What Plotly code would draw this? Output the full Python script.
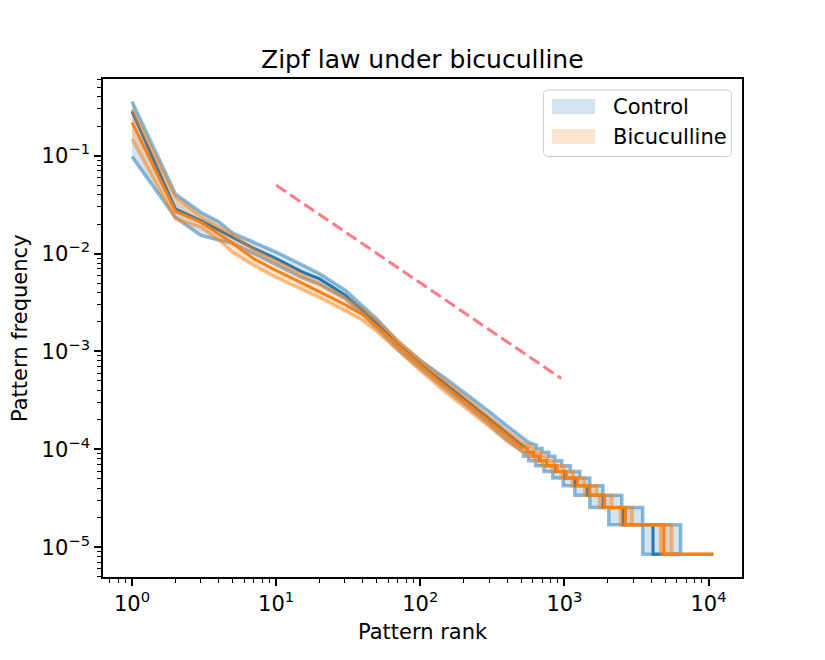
import plotly.graph_objects as go

# ---------------- data ----------------
ctrl_mean_rank = [1, 2, 3, 4, 5, 7, 10, 15, 20, 30, 40, 50, 70, 100, 150, 200, 300, 400, 500,
                  550, 550, 605, 605, 670, 670, 751, 751, 870, 870, 1006, 1006, 1181, 1181,
                  1441, 1441, 1854, 1854, 2551, 2551, 4118, 4118, 6450]
ctrl_mean_freq = [0.283, 0.0286, 0.0217, 0.01746, 0.01479, 0.0113, 0.00889, 0.00655, 0.00551,
                  0.00377, 0.00262, 0.00193, 0.001164, 7.36e-4, 4.66e-4, 3.35e-4, 2.06e-4,
                  1.46e-4, 1.11e-4,
                  1.02e-4, 9.35e-5, 9.35e-5, 8.5e-5, 8.5e-5, 7.65e-5, 7.65e-5, 6.8e-5, 6.8e-5,
                  5.95e-5, 5.95e-5, 5.1e-5, 5.1e-5, 4.25e-5, 4.25e-5, 3.4e-5, 3.4e-5, 2.55e-5,
                  2.55e-5, 1.7e-5, 1.7e-5, 8.5e-6, 8.5e-6]

ctrl_upper_rank = [1, 2, 3, 4, 5, 7, 10, 15, 20, 30, 40, 50, 70, 100, 150, 200, 300, 400, 500,
                   560, 640, 640, 700, 700, 780, 780, 860, 860, 960, 960, 1100, 1100, 1280, 1280,
                   1500, 1500, 1850, 1850, 2500, 2500, 3490, 3490, 6400, 6400, 6450]
ctrl_upper_freq = [0.358, 0.0406, 0.0264, 0.0212, 0.0162, 0.0130, 0.01035, 0.00773, 0.00622,
                   0.00425, 0.00292, 0.00215, 0.00125, 8.09e-4, 5.3e-4, 3.86e-4, 2.44e-4,
                   1.74e-4, 1.36e-4,
                   1.19e-4, 1.105e-4, 1.02e-4, 1.02e-4, 9.35e-5, 9.35e-5, 8.5e-5, 8.5e-5, 7.65e-5,
                   7.65e-5, 6.8e-5, 6.8e-5, 5.95e-5, 5.95e-5, 5.1e-5, 5.1e-5, 4.25e-5, 4.25e-5,
                   3.4e-5, 3.4e-5, 2.55e-5, 2.55e-5, 1.7e-5, 1.7e-5, 8.5e-6, 8.5e-6]

ctrl_lower_rank = [1, 2, 3, 4, 5, 7, 10, 15, 20, 30, 40, 50, 70, 100, 150, 200, 300, 400, 500,
                   520, 520, 565, 565, 630, 630, 720, 720, 830, 830, 980, 980, 1180, 1180,
                   1500, 1500, 2030, 2030, 3490, 3490, 6450]
ctrl_lower_freq = [0.0977, 0.0234, 0.0153, 0.0136, 0.01265, 0.0100, 0.00773, 0.00569, 0.00483,
                   0.00347, 0.00239, 0.00172, 0.00105, 6.71e-4, 4.19e-4, 2.94e-4, 1.80e-4,
                   1.24e-4, 9.77e-5,
                   9.35e-5, 8.5e-5, 8.5e-5, 7.65e-5, 7.65e-5, 6.8e-5, 6.8e-5, 5.95e-5, 5.95e-5,
                   5.1e-5, 5.1e-5, 4.25e-5, 4.25e-5, 3.4e-5, 3.4e-5, 2.55e-5, 2.55e-5, 1.7e-5,
                   1.7e-5, 8.5e-6, 8.5e-6]

bic_mean_rank = [1, 2, 3, 4, 5, 7, 10, 15, 20, 30, 40, 50, 70, 100, 150, 200, 300, 400, 500,
                 555, 555, 610, 610, 680, 680, 757, 757, 888, 888, 1030, 1030, 1230, 1230,
                 1500, 1500, 1900, 1900, 2650, 2650, 4900, 4900, 10800]
bic_mean_freq = [0.219, 0.0270, 0.0209, 0.0160, 0.01274, 0.00883, 0.00671, 0.00501, 0.00407,
                 0.00302, 0.00236, 0.00180, 0.00115, 7.19e-4, 4.34e-4, 3.09e-4, 1.91e-4,
                 1.36e-4, 1.06e-4,
                 1.02e-4, 9.35e-5, 9.35e-5, 8.5e-5, 8.5e-5, 7.65e-5, 7.65e-5, 6.8e-5, 6.8e-5,
                 5.95e-5, 5.95e-5, 5.1e-5, 5.1e-5, 4.25e-5, 4.25e-5, 3.4e-5, 3.4e-5, 2.55e-5,
                 2.55e-5, 1.7e-5, 1.7e-5, 8.5e-6, 8.5e-6]

bic_upper_rank = [1, 2, 3, 4, 5, 7, 10, 15, 20, 30, 40, 50, 70, 100, 150, 200, 300, 400, 500,
                  560, 620, 620, 690, 690, 760, 760, 850, 850, 990, 990, 1150, 1150, 1380, 1380,
                  1680, 1680, 2130, 2130, 2950, 2950, 5560, 5560, 10800]
bic_upper_freq = [0.30, 0.038, 0.0239, 0.0188, 0.0156, 0.0110, 0.00828, 0.00611, 0.00494,
                  0.00356, 0.00268, 0.00207, 0.00129, 8.09e-4, 4.94e-4, 3.47e-4, 2.15e-4,
                  1.53e-4, 1.19e-4,
                  1.105e-4, 1.02e-4, 9.35e-5, 9.35e-5, 8.5e-5, 8.5e-5, 7.65e-5, 7.65e-5, 6.8e-5,
                  6.8e-5, 5.95e-5, 5.95e-5, 5.1e-5, 5.1e-5, 4.25e-5, 4.25e-5, 3.4e-5, 3.4e-5,
                  2.55e-5, 2.55e-5, 1.7e-5, 1.7e-5, 8.5e-6, 8.5e-6]

bic_lower_rank = [1, 2, 3, 4, 5, 7, 10, 15, 20, 30, 40, 50, 70, 100, 150, 200, 300, 400, 500,
                  520, 560, 560, 625, 625, 700, 700, 820, 820, 950, 950, 1130, 1130, 1380, 1380,
                  1750, 1750, 2450, 2450, 4650, 4650, 10800]
bic_lower_freq = [0.148, 0.0226, 0.0185, 0.0138, 0.0103, 0.00755, 0.00569, 0.0043, 0.00356,
                  0.00262, 0.00207, 0.0016, 0.00102, 6.4e-4, 3.82e-4, 2.75e-4, 1.72e-4,
                  1.21e-4, 9.55e-5,
                  9.35e-5, 9.35e-5, 8.5e-5, 8.5e-5, 7.65e-5, 7.65e-5, 6.8e-5, 6.8e-5, 5.95e-5,
                  5.95e-5, 5.1e-5, 5.1e-5, 4.25e-5, 4.25e-5, 3.4e-5, 3.4e-5, 2.55e-5, 2.55e-5,
                  1.7e-5, 1.7e-5, 8.5e-6, 8.5e-6]

ref_rank = [10, 950]
ref_freq = [0.05, 5.3e-4]

series_names = ["Control", "Bicuculline"]
x_tick_vals = [1, 10, 100, 1000, 10000]
x_tick_text = ["10<sup>0</sup>", "10<sup>1</sup>", "10<sup>2</sup>", "10<sup>3</sup>", "10<sup>4</sup>"]
y_tick_vals = [1e-5, 1e-4, 1e-3, 1e-2, 1e-1]
y_tick_text = ["10<sup>−5</sup>", "10<sup>−4</sup>", "10<sup>−3</sup>", "10<sup>−2</sup>", "10<sup>−1</sup>"]

# ---------------- figure ----------------
W, H = 825, 660
ML, MR, MT, MB = 103, 83, 79, 83
PW, PH = W - ML - MR, H - MT - MB
FONT = "DejaVu Sans"

def px(X):
    return (X - ML) / PW

def py(Y):
    return (H - MB - Y) / PH

fig = go.Figure()

groups = [
    (ctrl_upper_rank, ctrl_upper_freq, ctrl_lower_rank, ctrl_lower_freq, ctrl_mean_rank, ctrl_mean_freq, (31, 119, 180)),
    (bic_upper_rank, bic_upper_freq, bic_lower_rank, bic_lower_freq, bic_mean_rank, bic_mean_freq, (255, 127, 14)),
]
for ur, uf, lr, lf, mr, mf, c in groups:
    rgb = "%d,%d,%d" % c
    fig.add_trace(go.Scatter(x=ur + lr[::-1], y=uf + lf[::-1], mode="lines", fill="toself",
                             fillcolor="rgba(%s,0.2)" % rgb, line=dict(width=0),
                             showlegend=False, hoverinfo="skip"))
    for xr, yf in ((ur, uf), (lr, lf)):
        fig.add_trace(go.Scatter(x=xr, y=yf, mode="lines",
                                 line=dict(color="rgba(%s,0.5)" % rgb, width=3.5),
                                 showlegend=False))
    fig.add_trace(go.Scatter(x=mr, y=mf, mode="lines",
                             line=dict(color="rgb(%s)" % rgb, width=3), showlegend=False))

fig.add_trace(go.Scatter(x=ref_rank, y=ref_freq, mode="lines",
                         line=dict(color="rgba(255,0,20,0.52)", width=3, dash="12px,5px"),
                         showlegend=False))

xminor = [k * 10 ** d for d in range(-1, 5) for k in range(2, 10)]
yminor = [k * 10.0 ** d for d in range(-6, 0) for k in range(2, 10)]

axis_common = dict(type="log", showgrid=False, zeroline=False, showline=True, linecolor="black",
                   linewidth=1.6, mirror=True, ticks="outside", ticklen=7, tickwidth=1.5,
                   tickcolor="black", tickfont=dict(family=FONT, size=21, color="black"))

fig.update_layout(
    width=W, height=H, margin=dict(l=ML, r=MR, t=MT, b=MB),
    paper_bgcolor="white", plot_bgcolor="white", showlegend=False,
    xaxis=dict(range=[-0.2015, 4.232], tickmode="array", tickvals=x_tick_vals, ticktext=x_tick_text,
               minor=dict(tickmode="array", tickvals=xminor, ticks="outside", ticklen=4,
                          tickwidth=1.2, tickcolor="black", showgrid=False),
               **axis_common),
    yaxis=dict(range=[-5.304, -0.217], tickmode="array", tickvals=y_tick_vals, ticktext=y_tick_text,
               minor=dict(tickmode="array", tickvals=yminor, ticks="outside", ticklen=4,
                          tickwidth=1.2, tickcolor="black", showgrid=False),
               **axis_common),
)

ann = [
    dict(text="Zipf law under bicuculline", x=0.5, y=py(60), font=dict(family=FONT, size=25, color="black")),
    dict(text="Pattern rank", x=0.5, y=py(632), font=dict(family=FONT, size=21, color="black")),
    dict(text="Pattern frequency", x=px(20), y=0.5, textangle=-90, font=dict(family=FONT, size=21, color="black")),
]
for a in ann:
    fig.add_annotation(xref="paper", yref="paper", showarrow=False, xanchor="center", yanchor="middle", **a)

# legend box (rounded) drawn with shapes + text
def rounded_path(x0, y0, x1, y1, r):
    rx, ry = r / PW, r / PH
    X0, X1 = px(x0), px(x1)
    Y0, Y1 = py(y1), py(y0)  # bottom, top in paper
    return (f"M {X0+rx},{Y0} L {X1-rx},{Y0} Q {X1},{Y0} {X1},{Y0+ry} "
            f"L {X1},{Y1-ry} Q {X1},{Y1} {X1-rx},{Y1} L {X0+rx},{Y1} "
            f"Q {X0},{Y1} {X0},{Y1-ry} L {X0},{Y0+ry} Q {X0},{Y0} {X0+rx},{Y0} Z")

fig.add_shape(type="path", xref="paper", yref="paper", path=rounded_path(543.5, 90, 731.5, 156.5, 5),
              fillcolor="rgba(255,255,255,0.8)", line=dict(color="#cccccc", width=1))
leg_colors = ["rgba(31,119,180,0.2)", "rgba(255,127,14,0.2)"]
for i, (name, col) in enumerate(zip(series_names, leg_colors)):
    yc = 106.5 + 30 * i
    fig.add_shape(type="rect", xref="paper", yref="paper", x0=px(552), x1=px(595),
                  y0=py(yc + 7.5), y1=py(yc - 7.5), fillcolor=col, line=dict(width=0))
    fig.add_annotation(xref="paper", yref="paper", x=px(611), y=py(yc), text=name, showarrow=False,
                       xanchor="left", yanchor="middle", font=dict(family=FONT, size=21, color="black"))

fig.write_html("out.html")
